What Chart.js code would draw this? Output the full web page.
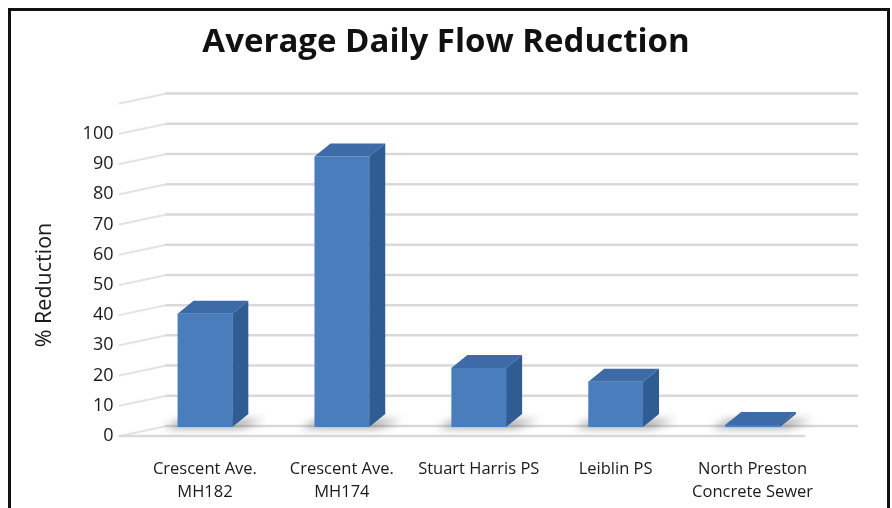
<!DOCTYPE html>
<html>
<head>
<meta charset="utf-8">
<script src="https://cdn.jsdelivr.net/npm/chart.js@4.4.1/dist/chart.umd.min.js"></script>
<style>
  html, body { margin: 0; padding: 0; background: #fff; }
  #wrap { position: relative; width: 892px; height: 508px; overflow: hidden; }
  #frame { position: absolute; left: 8px; top: 8px; width: 882px; height: 520px; border: 3px solid #111; box-sizing: border-box; pointer-events: none; }
</style>
</head>
<body>
<div id="wrap">
  <canvas id="flowChart" width="892" height="508"></canvas>
  <div id="frame"></div>
</div>
<script>
const categories = [
  ['Crescent Ave.', 'MH182'],
  ['Crescent Ave.', 'MH174'],
  'Stuart Harris PS',
  'Leiblin PS',
  ['North Preston', 'Concrete Sewer']
];
const reductionValues = [37.5, 89.5, 19.5, 15, 0.7];
const yMax = 110;
const yStep = 10;
const yLabelMax = 100;

const FONT = "'Open Sans', 'Noto Sans', sans-serif";
const FRONT = '#4a7dbb', SIDE = '#2f5c93', TOP = '#3c6ba8';
// depth offsets of the floor / back wall and of each bar
const WALL = { dxL: 47, dxR: 36, dy: -10, shift: -17 };
const BAR = { dx: 16, dy: -13, lift: -9 };

const wallPlugin = {
  id: 'wall',
  beforeDatasetsDraw(chart) {
    const { ctx, chartArea: a, scales: { y } } = chart;
    const xL = a.left + WALL.shift;
    ctx.save();
    ctx.lineCap = 'round';
    y.ticks.forEach(t => {
      const yf = y.getPixelForValue(t.value);
      ctx.strokeStyle = '#e3e3e3';
      ctx.lineWidth = 2;
      ctx.beginPath();
      ctx.moveTo(xL, yf);
      ctx.lineTo(xL + WALL.dxL, yf + WALL.dy);
      ctx.stroke();
      ctx.strokeStyle = '#d9d9d9';
      ctx.lineWidth = 2.5;
      ctx.beginPath();
      ctx.moveTo(xL + WALL.dxL, yf + WALL.dy);
      ctx.lineTo(a.right + WALL.dxR, yf + WALL.dy);
      ctx.stroke();
      if (t.value === 0) {
        ctx.beginPath();
        ctx.moveTo(xL, yf);
        ctx.lineTo(a.right + WALL.shift, yf);
        ctx.stroke();
      }
    });
    ctx.restore();

    // bars sit a little behind the front edge of the floor
    ctx.save();
    ctx.translate(0, BAR.lift);
    chart.getDatasetMeta(0).data.forEach(bar => {
      const { x, base, width } = bar.getProps(['x', 'base', 'width'], true);
      const x0 = x - width / 2, x1 = x + width / 2;
      ctx.save();
      ctx.filter = 'blur(4px)';
      ctx.fillStyle = 'rgba(60,60,60,0.5)';
      ctx.beginPath();
      ctx.moveTo(x0 - 14, base + 1);
      ctx.lineTo(x1 + 8, base + 1);
      ctx.lineTo(x1 + BAR.dx + 16, base + BAR.dy + 6);
      ctx.lineTo(x0 + 4, base + BAR.dy + 6);
      ctx.closePath();
      ctx.fill();
      ctx.restore();
    });
  },
  afterDatasetsDraw(chart) {
    const { ctx } = chart;
    chart.getDatasetMeta(0).data.forEach(bar => {
      const { x, y, base, width } = bar.getProps(['x', 'y', 'base', 'width'], true);
      const x0 = x - width / 2, x1 = x + width / 2;
      ctx.fillStyle = TOP;
      ctx.beginPath();
      ctx.moveTo(x0, y);
      ctx.lineTo(x0 + BAR.dx, y + BAR.dy);
      ctx.lineTo(x1 + BAR.dx, y + BAR.dy);
      ctx.lineTo(x1, y);
      ctx.closePath();
      ctx.fill();
      ctx.fillStyle = SIDE;
      ctx.beginPath();
      ctx.moveTo(x1, y);
      ctx.lineTo(x1 + BAR.dx, y + BAR.dy);
      ctx.lineTo(x1 + BAR.dx, base + BAR.dy);
      ctx.lineTo(x1, base);
      ctx.closePath();
      ctx.fill();
    });
    ctx.restore();
  }
};

const yTitlePlugin = {
  id: 'yTitle',
  afterDraw(chart) {
    const { ctx } = chart;
    ctx.save();
    ctx.translate(45, 285);
    ctx.rotate(-Math.PI / 2);
    ctx.font = `21.5px ${FONT}`;
    ctx.fillStyle = '#1a1a1a';
    ctx.textAlign = 'center';
    ctx.textBaseline = 'middle';
    ctx.fillText('% Reduction', 0, 0);
    ctx.restore();
  }
};

new Chart(document.getElementById('flowChart'), {
  type: 'bar',
  data: {
    labels: categories,
    datasets: [{
      data: reductionValues,
      backgroundColor: FRONT,
      borderWidth: 0,
      barPercentage: 0.4,
      categoryPercentage: 1,
      clip: false
    }]
  },
  options: {
    responsive: false,
    animation: false,
    events: [],
    layout: { padding: 0 },
    plugins: {
      legend: { display: false },
      tooltip: { enabled: false },
      title: {
        display: true,
        text: 'Average Daily Flow Reduction',
        color: '#111',
        font: { family: FONT, size: 33, weight: 'bold', lineHeight: 1.2 },
        padding: { top: 23, bottom: 41 }
      }
    },
    scales: {
      x: {
        grid: { display: false, drawTicks: false },
        border: { display: false },
        ticks: { color: '#1a1a1a', padding: 22, maxRotation: 0, autoSkip: false, font: { family: FONT, size: 16.5, lineHeight: 1.4 } },
        afterFit: s => { s.height = 72; }
      },
      y: {
        min: 0,
        max: yMax,
        grid: { display: false, drawTicks: false },
        border: { display: false },
        ticks: {
          stepSize: yStep,
          padding: 23,
          color: '#1a1a1a',
          font: { family: FONT, size: 18 },
          callback: v => (v <= yLabelMax ? v : '')
        },
        afterFit: s => { s.width = 136.5; }
      },
      // empty right-hand strip so the title centres on the whole frame
      yRight: {
        position: 'right',
        display: true,
        grid: { display: false, drawTicks: false },
        border: { display: false },
        ticks: { display: false },
        afterFit: s => { s.width = 71; }
      }
    }
  },
  plugins: [wallPlugin, yTitlePlugin]
});
</script>
</body>
</html>
